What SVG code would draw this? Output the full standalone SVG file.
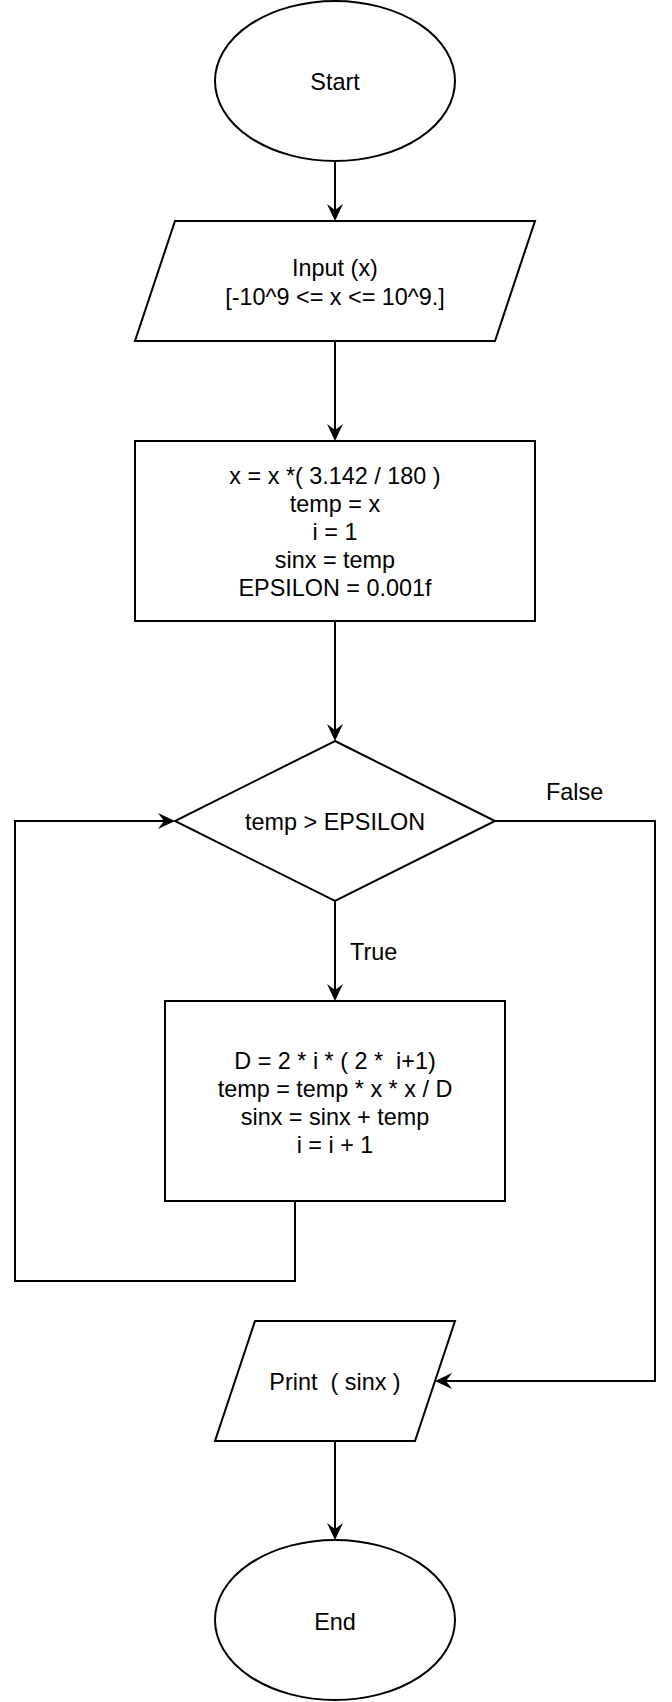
<svg xmlns="http://www.w3.org/2000/svg" width="672" height="1702" viewBox="0 0 672 1702">
<style>
.shape{fill:#fff;stroke:#000;stroke-width:2}
.edge{fill:none;stroke:#000;stroke-width:2}
text{font-family:"Liberation Sans",Arial,sans-serif;font-size:23.4px;fill:#000}
.c{text-anchor:middle}
</style>
<defs>
<marker id="arrow" markerUnits="userSpaceOnUse" markerWidth="17" markerHeight="17" viewBox="0 0 17 17" refX="14" refY="8.5" orient="auto">
<path d="M0,0.5 L17,8.5 L0,16.5 L6,8.5 Z" fill="#000"/>
</marker>
</defs>
<rect width="672" height="1702" fill="#fff"/>
<g id="connectors">
<path class="edge" d="M335,161 V218" marker-end="url(#arrow)"/>
<path class="edge" d="M335,341 V438" marker-end="url(#arrow)"/>
<path class="edge" d="M335,621 V738" marker-end="url(#arrow)"/>
<path class="edge" d="M335,901 V998" marker-end="url(#arrow)"/>
<path class="edge" d="M295,1201 V1281 H15 V821 H172" marker-end="url(#arrow)"/>
<path class="edge" d="M495,821 H655 V1381 H438" marker-end="url(#arrow)"/>
<path class="edge" d="M335,1441 V1537" marker-end="url(#arrow)"/>
<text x="546" y="800">False</text>
<text x="350" y="960">True</text>
</g>
<g id="start">
<ellipse class="shape" cx="335" cy="81" rx="120" ry="80"/>
<text class="c" x="335" y="90">Start</text>
</g>
<g id="input">
<polygon class="shape" points="175,221 535,221 495,341 135,341"/>
<text class="c" x="335" y="276">Input (x)</text>
<text class="c" x="335" y="305">[-10^9 &lt;= x &lt;= 10^9.]</text>
</g>
<g id="init">
<rect class="shape" x="135" y="441" width="400" height="180"/>
<text class="c" x="335" y="484">x = x *( 3.142 / 180 )</text>
<text class="c" x="335" y="512">temp = x</text>
<text class="c" x="335" y="540">i = 1</text>
<text class="c" x="335" y="568">sinx = temp</text>
<text class="c" x="335" y="596">EPSILON = 0.001f</text>
</g>
<g id="decision">
<polygon class="shape" points="335,741 495,821 335,901 175,821"/>
<text class="c" x="335" y="830">temp &gt; EPSILON</text>
</g>
<g id="loop">
<rect class="shape" x="165" y="1001" width="340" height="200"/>
<text class="c" x="335" y="1069" xml:space="preserve">D = 2 * i * ( 2 *  i+1)</text>
<text class="c" x="335" y="1097">temp = temp * x * x / D</text>
<text class="c" x="335" y="1125">sinx = sinx + temp</text>
<text class="c" x="335" y="1153">i = i + 1</text>
</g>
<g id="print">
<polygon class="shape" points="255,1321 455,1321 415,1441 215,1441"/>
<text class="c" x="335" y="1390" xml:space="preserve">Print  ( sinx )</text>
</g>
<g id="end">
<ellipse class="shape" cx="335" cy="1620" rx="120" ry="80"/>
<text class="c" x="335" y="1630">End</text>
</g>
</svg>
